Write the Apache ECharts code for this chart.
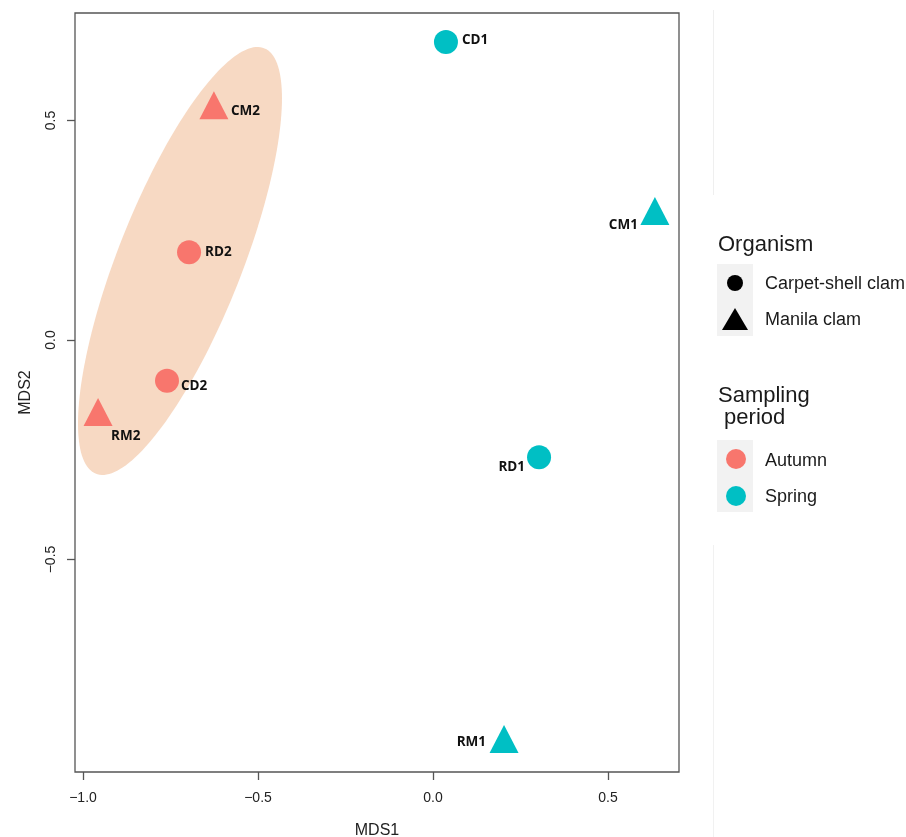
<!DOCTYPE html>
<html>
<head>
<meta charset="utf-8">
<title>NMDS ordination of clam samples</title>
<script src="https://cdn.jsdelivr.net/npm/echarts@6/dist/echarts.min.js"></script>
<style>
  html, body { margin: 0; padding: 0; background: #ffffff; overflow: hidden; }
  #chart { width: 906px; height: 837px; }
</style>
</head>
<body>
<div id="chart"></div>
<script>
// NMDS scores per sample
const samples  = ['CD1', 'CM1', 'RD1', 'RM1', 'CD2', 'CM2', 'RD2', 'RM2'];
const mds1     = [0.037, 0.634, 0.303, 0.203, -0.760, -0.626, -0.697, -0.957];
const mds2     = [0.679, 0.294, -0.267, -0.909, -0.093, 0.535, 0.200, -0.164];
const organism = ['Carpet-shell clam', 'Manila clam', 'Carpet-shell clam', 'Manila clam',
                  'Carpet-shell clam', 'Manila clam', 'Carpet-shell clam', 'Manila clam'];
const period   = ['Spring', 'Spring', 'Spring', 'Spring',
                  'Autumn', 'Autumn', 'Autumn', 'Autumn'];

// factor levels shown in the legend
const organismLevels = ['Carpet-shell clam', 'Manila clam'];
const periodLevels   = ['Autumn', 'Spring'];

// axis ticks
const xTicks = [-1.0, -0.5, 0.0, 0.5];
const yTicks = [-0.5, 0.0, 0.5];

// ellipse around the autumn group: centre and two conjugate half-axes (MDS units)
const ellipseCenter = [-0.7229, 0.1800];
const ellipseAxisA  = [0.2914, 0.3704];
const ellipseAxisB  = [0.0000, 0.3169];

// ---- styling ----
const periodColor = { Autumn: '#F8766D', Spring: '#00BFC4' };
const organismSymbol = { 'Carpet-shell clam': 'circle', 'Manila clam': 'triangle' };
const organismSize = { 'Carpet-shell clam': [24, 24], 'Manila clam': [29, 28] };

// text placement of the sample names around each point (px from the point)
const labelPlacement = {
  CD1: { align: 'left',  offset: [16, -2] },
  CM1: { align: 'right', offset: [-17, 14] },
  RD1: { align: 'right', offset: [-14, 10] },
  RM1: { align: 'right', offset: [-18, 3] },
  CD2: { align: 'left',  offset: [14, 5] },
  CM2: { align: 'left',  offset: [17, 6] },
  RD2: { align: 'left',  offset: [16, 0] },
  RM2: { align: 'left',  offset: [13, 24] }
};

const fmt = v => v.toFixed(1).replace('-', '\u2212');

function pointsFor(p) {
  const out = [];
  samples.forEach((s, i) => {
    if (period[i] !== p) return;
    const place = labelPlacement[s];
    out.push({
      name: s,
      value: [mds1[i], mds2[i]],
      symbol: organismSymbol[organism[i]],
      symbolSize: organismSize[organism[i]],
      label: {
        show: true,
        formatter: s,
        position: 'inside',
        align: place.align,
        verticalAlign: 'middle',
        offset: place.offset
      }
    });
  });
  return out;
}

const chart = echarts.init(document.getElementById('chart'), null, { renderer: 'canvas', width: 906, height: 837 });

const sans = '"Liberation Sans", Arial, sans-serif';
const axisFont = { fontFamily: sans, fontSize: 14, color: '#222222' };
const tickStyle = { color: '#555555', width: 1.3 };

const option = {
  animation: false,
  backgroundColor: '#ffffff',
  grid: {
    left: 75, top: 13, width: 604, height: 759,
    outerBoundsMode: 'none',
    containLabel: false,
    show: true, borderColor: '#555555', borderWidth: 1.3, backgroundColor: 'transparent'
  },
  xAxis: {
    type: 'value',
    min: -1.02286, max: 0.70286,
    name: 'MDS1', nameLocation: 'middle', nameGap: 51,
    nameTextStyle: { fontFamily: sans, fontSize: 16, color: '#222222' },
    splitLine: { show: false },
    axisLine: { show: false, onZero: false },
    axisTick: { show: true, customValues: xTicks, length: 8, inside: false, lineStyle: tickStyle },
    axisLabel: { show: true, customValues: xTicks, formatter: fmt, margin: 19, ...axisFont }
  },
  yAxis: {
    type: 'value',
    min: -0.98405, max: 0.74487,
    name: 'MDS2', nameLocation: 'middle', nameGap: 41, nameRotate: 90,
    nameTextStyle: { fontFamily: sans, fontSize: 16, color: '#222222' },
    splitLine: { show: false },
    axisLine: { show: false, onZero: false },
    axisTick: { show: true, customValues: yTicks, length: 8, inside: false, lineStyle: tickStyle },
    axisLabel: { show: true, customValues: yTicks, formatter: fmt, rotate: 90, margin: 17, ...axisFont }
  },
  series: [
    {
      type: 'custom',
      name: 'Autumn ellipse',
      coordinateSystem: 'cartesian2d',
      silent: true,
      z: 1,
      data: [[ellipseCenter[0], ellipseCenter[1]]],
      renderItem: function (params, api) {
        const pts = [];
        const n = 180;
        for (let k = 0; k < n; k++) {
          const t = 2 * Math.PI * k / n;
          const c = Math.cos(t), s = Math.sin(t);
          pts.push(api.coord([
            ellipseCenter[0] + c * ellipseAxisA[0] + s * ellipseAxisB[0],
            ellipseCenter[1] + c * ellipseAxisA[1] + s * ellipseAxisB[1]
          ]));
        }
        return { type: 'polygon', shape: { points: pts }, style: { fill: '#F7D9C3', stroke: null } };
      }
    },
    ...periodLevels.map(p => ({
      type: 'scatter',
      name: p,
      z: 3,
      data: pointsFor(p),
      itemStyle: { color: periodColor[p], opacity: 1 },
      label: {
        color: '#111111',
        fontFamily: '"Open Sans", "Noto Sans", sans-serif',
        fontWeight: 'bold',
        fontSize: 13.5
      },
      emphasis: { disabled: true }
    }))
  ],
  graphic: [
    // faint vertical rule to the right of the panel
    { type: 'line', shape: { x1: 713.5, y1: 10, x2: 713.5, y2: 195 }, style: { stroke: '#efefef', lineWidth: 1 }, silent: true },
    { type: 'line', shape: { x1: 713.5, y1: 545, x2: 713.5, y2: 837 }, style: { stroke: '#f1f1f1', lineWidth: 1 }, silent: true },

    // Organism legend
    { type: 'text', left: 718, top: 234, style: { text: 'Organism', fontFamily: sans, fontSize: 22, fill: '#1a1a1a' } },
    { type: 'rect', shape: { x: 717, y: 264, width: 36, height: 72 }, style: { fill: '#f2f2f2' }, silent: true },
    { type: 'circle', shape: { cx: 735, cy: 283, r: 8 }, style: { fill: '#000000' } },
    { type: 'polygon', shape: { points: [[722, 330], [748, 330], [735, 308]] }, style: { fill: '#000000' } },
    { type: 'text', left: 765, top: 275, style: { text: organismLevels[0], fontFamily: sans, fontSize: 18, fill: '#1a1a1a' } },
    { type: 'text', left: 765, top: 311, style: { text: organismLevels[1], fontFamily: sans, fontSize: 18, fill: '#1a1a1a' } },

    // Sampling period legend
    { type: 'text', left: 718, top: 385, style: { text: 'Sampling\n period', lineHeight: 22, fontFamily: sans, fontSize: 22, fill: '#1a1a1a' } },
    { type: 'rect', shape: { x: 717, y: 440, width: 36, height: 72 }, style: { fill: '#f2f2f2' }, silent: true },
    { type: 'circle', shape: { cx: 736, cy: 459, r: 10 }, style: { fill: periodColor[periodLevels[0]] } },
    { type: 'circle', shape: { cx: 736, cy: 496, r: 10 }, style: { fill: periodColor[periodLevels[1]] } },
    { type: 'text', left: 765, top: 452, style: { text: periodLevels[0], fontFamily: sans, fontSize: 18, fill: '#1a1a1a' } },
    { type: 'text', left: 765, top: 488, style: { text: periodLevels[1], fontFamily: sans, fontSize: 18, fill: '#1a1a1a' } }
  ]
};

chart.setOption(option);
</script>
</body>
</html>
